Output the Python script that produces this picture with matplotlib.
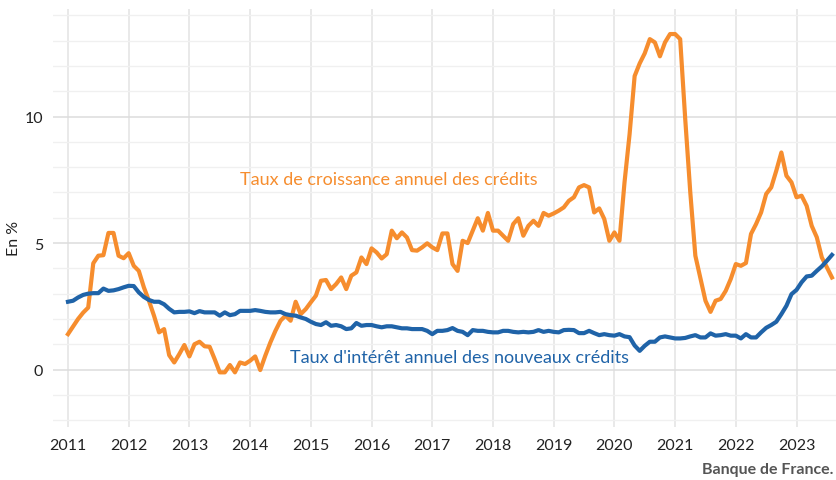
import matplotlib
matplotlib.use("Agg")
import matplotlib.pyplot as plt
import matplotlib.transforms as mtransforms
import numpy as np

# Données mensuelles, janvier 2011 -> août 2023
debut_annee = 2011
annees = list(range(2011, 2024))

croissance_credits = [
    1.40, 1.70, 2.00, 2.25, 2.45, 4.20, 4.50, 4.52, 5.40, 5.40, 4.50, 4.40,
    4.60, 4.10, 3.90, 3.25, 2.72, 2.13, 1.47, 1.60, 0.57, 0.28, 0.61, 0.97,
    0.52, 1.00, 1.10, 0.92, 0.90, 0.41, -0.11, -0.11, 0.18, -0.11, 0.28, 0.22,
    0.35, 0.52, -0.02, 0.55, 1.07, 1.53, 1.93, 2.13, 1.93, 2.68, 2.19, 2.39,
    2.66, 2.92, 3.51, 3.54, 3.18, 3.38, 3.64, 3.18, 3.71, 3.84, 4.43, 4.17,
    4.79, 4.63, 4.39, 4.56, 5.49, 5.19, 5.42, 5.22, 4.72, 4.70, 4.83, 4.99,
    4.83, 4.72, 5.38, 5.38, 4.17, 3.90, 5.09, 5.00, 5.49, 5.98, 5.49, 6.19,
    5.49, 5.49, 5.29, 5.09, 5.75, 5.98, 5.29, 5.68, 5.88, 5.68, 6.19, 6.08,
    6.17, 6.28, 6.41, 6.67, 6.81, 7.20, 7.29, 7.20, 6.21, 6.37, 5.95, 5.09,
    5.42, 5.09, 7.40, 9.30, 11.60, 12.10, 12.50, 13.06, 12.93, 12.38, 12.93, 13.26,
    13.26, 13.06, 9.90, 7.00, 4.50, 3.60, 2.72, 2.28, 2.72, 2.79, 3.11, 3.58,
    4.17, 4.10, 4.21, 5.36, 5.75, 6.21, 6.94, 7.20, 7.86, 8.58, 7.66, 7.40,
    6.81, 6.87, 6.47, 5.68, 5.23, 4.43, 4.04, 3.64,
]

taux_interet = [
    2.68, 2.72, 2.85, 2.95, 3.00, 3.02, 3.02, 3.20, 3.11, 3.13, 3.18, 3.25,
    3.31, 3.30, 3.05, 2.87, 2.75, 2.68, 2.68, 2.58, 2.40, 2.26, 2.28, 2.28,
    2.30, 2.23, 2.31, 2.26, 2.26, 2.26, 2.13, 2.26, 2.15, 2.19, 2.32, 2.32,
    2.32, 2.35, 2.32, 2.28, 2.26, 2.26, 2.28, 2.19, 2.15, 2.13, 2.06, 2.00,
    1.89, 1.80, 1.76, 1.87, 1.73, 1.76, 1.71, 1.60, 1.63, 1.84, 1.73, 1.76,
    1.76, 1.71, 1.67, 1.71, 1.71, 1.67, 1.63, 1.63, 1.60, 1.60, 1.60, 1.53,
    1.40, 1.53, 1.53, 1.56, 1.64, 1.53, 1.49, 1.36, 1.56, 1.53, 1.53, 1.49,
    1.47, 1.47, 1.53, 1.53, 1.49, 1.47, 1.49, 1.47, 1.49, 1.56, 1.49, 1.53,
    1.49, 1.47, 1.56, 1.57, 1.56, 1.44, 1.44, 1.53, 1.44, 1.36, 1.40, 1.36,
    1.34, 1.40, 1.31, 1.28, 0.95, 0.74, 0.94, 1.10, 1.10, 1.27, 1.31, 1.27,
    1.23, 1.23, 1.25, 1.31, 1.36, 1.27, 1.27, 1.43, 1.34, 1.36, 1.40, 1.34,
    1.34, 1.23, 1.40, 1.27, 1.27, 1.47, 1.65, 1.76, 1.89, 2.19, 2.52, 2.98,
    3.15, 3.45, 3.68, 3.71, 3.90, 4.08, 4.30, 4.53,
]

orange = "#F68D2E"
bleu = "#1F63A8"

plt.rcParams["font.family"] = ["Lato", "DejaVu Sans"]

fig = plt.figure(figsize=(8.36, 4.81), dpi=100)
ax = fig.add_axes([53 / 836, 1 - 428 / 481, 783 / 836, 418 / 481])

mois = np.arange(len(croissance_credits))
ax.plot(mois, croissance_credits, color=orange, lw=3.0, solid_joinstyle="round", zorder=3)
ax.plot(mois, taux_interet, color=bleu, lw=3.0, solid_joinstyle="round", zorder=3)

ax.set_xlim(-2.96, 151.8)
ax.set_ylim(-2.27, 14.25)

ax.set_xticks([(a - debut_annee) * 12 for a in annees])
ax.set_xticklabels([str(a) for a in annees])
ax.set_yticks([0, 5, 10])
ax.set_yticks(range(-2, 15), minor=True)

decalage = mtransforms.ScaledTranslation(10 / 100, 0, fig.dpi_scale_trans)
for lab in ax.get_xticklabels():
    lab.set_transform(lab.get_transform() + decalage)

ax.tick_params(axis="both", length=0, labelsize=11.5, labelcolor="#222222")
ax.tick_params(axis="y", pad=7)
ax.tick_params(axis="x", pad=8)
ax.tick_params(which="minor", length=0)

ax.grid(axis="x", which="major", color="#e3e3e3", lw=1.1)
ax.grid(axis="y", which="major", color="#dcdcdc", lw=1.1)
ax.grid(axis="y", which="minor", color="#f0f0f0", lw=1.0)
ax.set_axisbelow(True)
for s in ax.spines.values():
    s.set_visible(False)

ax.text(63.4, 7.53, "Taux de croissance annuel des crédits", color=orange,
        fontsize=13, ha="center", va="center")
ax.text(77.3, 0.49, "Taux d'intérêt annuel des nouveaux crédits", color=bleu,
        fontsize=13, ha="center", va="center")

fig.text(14 / 836, 1 - 238 / 481, "En %", rotation=90, ha="center", va="center",
         fontsize=11.5, color="#222222")
fig.text(833 / 836, 1 - 470 / 481, "Banque de France.", ha="right", va="center",
         fontsize=11.5, fontweight="bold", color="#555555")

fig.savefig("out.png", dpi=100)
